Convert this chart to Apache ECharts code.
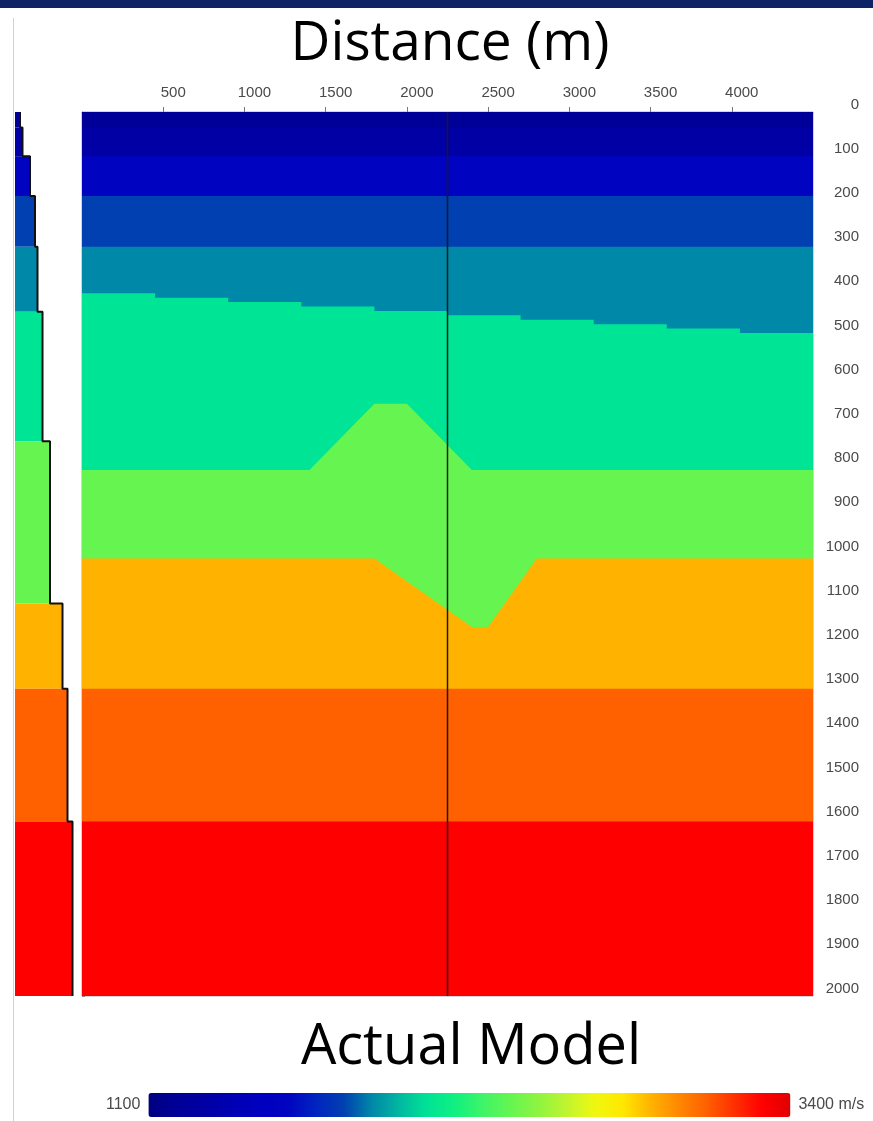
<!DOCTYPE html>
<html>
<head>
<meta charset="utf-8">
<script src="https://cdn.jsdelivr.net/npm/echarts@6/dist/echarts.min.js"></script>
<style>
html,body{margin:0;padding:0;background:#fff;}
#chart{width:873px;height:1121px;}
</style>
</head>
<body>
<div id="chart"></div>
<script>
// ---------- data ----------
const distanceRange = [0, 4500];          // m
const depthRange = [0, 2000];             // m
const velocityRange = [1100, 3400];       // m/s (colour bar)
const distanceTickStep = 500;
const depthTickStep = 100;
const wellDistance = 2250;                // vertical black line / profile location

// colour map, one stop every 100 m/s from 1100 to 3400
const velocityColors = [
  '#000080','#000098','#0000a4','#0000b4','#0000c0','#0004c0',
  '#0024c0','#0040b0','#0088a8','#00b8a0','#00e496','#10f080',
  '#40f468','#66f550','#90f440','#c0f430','#f0f810','#ffe800',
  '#ffb300','#ff8800','#ff6000','#ff3000','#ff0000','#e00000'
];

// layer velocities (m/s), top to bottom
const layerVelocities = [1200, 1300, 1600, 1800, 1900, 2100, 2400, 2900, 3100, 3300];

// layer top interfaces: [distance, depth]
const topSurface  = [[0, 0], [4500, 0]];
const interface1  = [[0, 35], [4500, 35]];
const interface2  = [[0, 100], [4500, 100]];
const interface3  = [[0, 190], [4500, 190]];
const interface4  = [[0, 305], [4500, 305]];
const stepEdges   = [0, 450, 900, 1350, 1800, 2250, 2700, 3150, 3600, 4050, 4500];
const stepDepths  = [410, 420, 430, 440, 450, 460, 470, 480, 490, 500];
const bumpTop     = [[0, 810], [1400, 810], [1800, 660], [2000, 660], [2400, 810], [4500, 810]];
const bumpBase    = [[0, 1010], [1800, 1010], [2400, 1165], [2500, 1165], [2800, 1010], [4500, 1010]];
const interface8  = [[0, 1305], [4500, 1305]];
const interface9  = [[0, 1605], [4500, 1605]];

// 1-D velocity profile at the well (left panel)
const profileDepths = [0, 35, 100, 190, 305, 452, 745, 1112, 1305, 1605, 2000];
const profileVelocities = [1200, 1300, 1600, 1800, 1900, 2100, 2400, 2900, 3100, 3300];
const profileMinVelocity = 1000;

// ---------- build ----------
const interface5 = stepDepths.flatMap((d, i) => [[stepEdges[i], d], [stepEdges[i + 1], d]]);
const layerTops = [topSurface, interface1, interface2, interface3, interface4,
                   interface5, bumpTop, bumpBase, interface8, interface9];
// each layer drawn from its top interface down to the model base; later layers overwrite
const layerPolys = layerTops.map(top => top.concat([[distanceRange[1], depthRange[1]], [distanceRange[0], depthRange[1]]]));

const profileOutline = [];
profileVelocities.forEach((v, i) => {
  profileOutline.push([v, profileDepths[i]]);
  profileOutline.push([v, profileDepths[i + 1]]);
});

const labelFont = "'Liberation Sans',sans-serif";
const plain = v => String(v);

const chart = echarts.init(document.getElementById('chart'), null, {renderer: 'canvas'});
chart.setOption({
  animation: false,
  backgroundColor: '#ffffff',
  grid: [
    {left: 82, top: 112, width: 731, height: 884, containLabel: false, outerBoundsMode: 'none',
     show: true, borderColor: '#a8a8b0', borderWidth: 1, backgroundColor: 'transparent'},
    {left: 15, top: 112, width: 60, height: 884, containLabel: false, outerBoundsMode: 'none'}
  ],
  xAxis: [
    {
      gridIndex: 0, type: 'value', position: 'top',
      min: distanceRange[0], max: distanceRange[1], interval: distanceTickStep,
      axisLine: {show: true, lineStyle: {color: '#9a9aa6', width: 1}},
      axisTick: {show: true, length: 5, lineStyle: {color: '#777'}},
      splitLine: {show: false},
      axisLabel: {
        showMinLabel: false, showMaxLabel: false, margin: 12, formatter: plain,
        fontSize: 15, color: '#4a4a4a', fontFamily: labelFont,
        padding: [0, 0, 0, 20]
      }
    },
    {gridIndex: 1, type: 'value', min: profileMinVelocity, max: velocityRange[1], show: false}
  ],
  yAxis: [
    {
      gridIndex: 0, type: 'value', position: 'right', inverse: true,
      min: depthRange[0], max: depthRange[1], interval: depthTickStep,
      axisLine: {show: true, lineStyle: {color: '#8a8a8a', width: 1}},
      axisTick: {show: true, length: 3, lineStyle: {color: '#888'}},
      splitLine: {show: false},
      axisLabel: {
        margin: 46, align: 'right', verticalAlign: 'bottom', formatter: plain,
        fontSize: 15, color: '#4a4a4a', fontFamily: labelFont
      }
    },
    {gridIndex: 1, type: 'value', inverse: true, min: depthRange[0], max: depthRange[1], show: false}
  ],
  visualMap: {
    type: 'continuous',
    min: velocityRange[0], max: velocityRange[1],
    dimension: 1, seriesIndex: [0, 2],
    orient: 'horizontal',
    left: 91, top: 1078,
    itemWidth: 24, itemHeight: 642,
    text: ['3400 m/s', '1100'],
    textGap: 8,
    calculable: false, hoverLink: false, realtime: false,
    inRange: {color: velocityColors},
    textStyle: {fontSize: 16, color: '#4a4a4a', fontFamily: labelFont}
  },
  graphic: [
    {type: 'rect', shape: {x: 0, y: 0, width: 873, height: 8}, style: {fill: '#0c2365'}, silent: true},
    {type: 'line', shape: {x1: 13.5, y1: 18, x2: 13.5, y2: 1121}, style: {stroke: '#d2d2d2', lineWidth: 1}, silent: true},
    {type: 'text', x: 450, y: 44, silent: true,
     style: {text: 'Distance (m)', font: "55px 'Open Sans'", fill: '#000', textAlign: 'center', textVerticalAlign: 'middle'}},
    {type: 'text', x: 471, y: 1048, silent: true,
     style: {text: 'Actual Model', font: "56px 'Open Sans'", fill: '#000', textAlign: 'center', textVerticalAlign: 'middle'}}
  ],
  series: [
    {
      type: 'custom', name: 'model', xAxisIndex: 0, yAxisIndex: 0,
      data: layerVelocities.map((v, i) => [i, v]),
      renderItem: function (params, api) {
        const idx = api.value(0);
        const pts = layerPolys[idx].map(p => api.coord(p));
        return {type: 'polygon', shape: {points: pts}, style: {fill: api.visual('color')}};
      },
      silent: true
    },
    {
      type: 'line', name: 'well', xAxisIndex: 0, yAxisIndex: 0,
      data: [[wellDistance, depthRange[0]], [wellDistance, depthRange[1]]],
      symbol: 'none', lineStyle: {color: '#1a1a1a', width: 1.5}, silent: true, z: 5
    },
    {
      type: 'custom', name: 'profile', xAxisIndex: 1, yAxisIndex: 1,
      data: profileVelocities.map((v, i) => [i, v, profileDepths[i], profileDepths[i + 1]]),
      renderItem: function (params, api) {
        const p1 = api.coord([profileMinVelocity, api.value(2)]);
        const p2 = api.coord([api.value(1), api.value(3)]);
        return {type: 'rect', shape: {x: p1[0], y: p1[1], width: p2[0] - p1[0], height: p2[1] - p1[1]},
                style: {fill: api.visual('color')}};
      },
      silent: true
    },
    {
      type: 'line', name: 'profileOutline', xAxisIndex: 1, yAxisIndex: 1,
      data: profileOutline, symbol: 'none',
      lineStyle: {color: '#111', width: 2}, silent: true, z: 5
    }
  ]
});
</script>
</body>
</html>
